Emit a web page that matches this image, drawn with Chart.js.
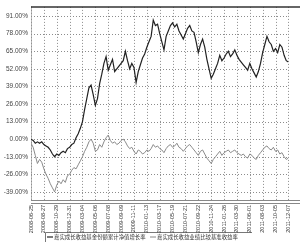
<!DOCTYPE html>
<html><head><meta charset="utf-8">
<script src="https://cdn.jsdelivr.net/npm/chart.js@4/dist/chart.umd.min.js"></script>
<style>html,body{margin:0;padding:0;background:#fff}#wrap{width:300px;height:242px}</style>
</head><body><div id="wrap"><canvas id="c" width="300" height="242"></canvas></div>
<script>
const tickLabels = ["2008-06-25","2008-08-27","2008-10-29","2008-12-31","2009-03-04","2009-05-06","2009-07-08","2009-09-09","2009-11-11","2010-01-13","2010-03-17","2010-05-19","2010-07-21","2010-09-22","2010-11-24","2011-01-26","2011-03-30","2011-06-01","2011-08-03","2011-10-05","2011-12-07"];
const yTicks = [-39,-26,-13,0,13,26,39,52,65,78,91];
const seriesNames = ["嘉实成长收益基金份额累计净值增长率","嘉实成长收益业绩比较基准收益率"];
const fundValues = [0,-1,-3,-2,-3,-2,-4,-5,-6,-8,-11,-13,-11,-12,-10,-9,-10,-7,-6,-4,-3,1,4,8,13,22,30,38,40,33,25,30,41,48,56,61,51,55,59,50,52,54,56,58,65,58,52,56,53,42,50,55,60,63,68,72,76,88,84,85,78,72,66,76,80,84,86,83,85,80,77,74,78,82,84,80,79,72,64,70,74,68,59,52,45,48,52,56,62,58,60,63,65,61,63,66,62,59,57,55,53,51,56,52,49,46,50,56,64,70,76,72,70,65,67,64,70,68,62,58,57];
const benchValues = [-3,-6,-12,-18,-15,-17,-22,-26,-29,-33,-36,-39,-34,-31,-33,-30,-32,-27,-26,-23,-21,-22,-19,-16,-13,-9,-6,-2,0,-3,-9,-8,-4,-6,-2,1,3,-1,-3,-2,-4,-3,-1,0,-2,-5,-7,-6,-9,-11,-8,-9,-11,-10,-8,-9,-7,-4,-6,-5,-7,-8,-10,-7,-5,-4,-6,-5,-3,-6,-7,-9,-7,-5,-4,-6,-8,-10,-12,-9,-8,-11,-14,-16,-18,-15,-13,-11,-9,-12,-10,-9,-8,-10,-9,-8,-10,-11,-12,-11,-13,-14,-11,-12,-14,-15,-12,-10,-8,-6,-5,-7,-8,-6,-9,-8,-11,-10,-13,-15,-14];

const perLabel = (fundValues.length - 1) / (tickLabels.length - 1);
const toPts = arr => arr.map((v, i) => ({x: i, y: v}));

const gridPlugin = {
  id: 'dotgrid',
  beforeDatasetsDraw(chart) {
    const {ctx, chartArea: a, scales: {x, y}} = chart;
    ctx.save();
    ctx.strokeStyle = '#8c8c8c'; ctx.lineWidth = 1;
    ctx.setLineDash([1, 2]);
    x.ticks.forEach(t => {
      const px = Math.round(x.getPixelForValue(t.value)) + 0.5;
      ctx.beginPath(); ctx.moveTo(px, a.top); ctx.lineTo(px, a.bottom); ctx.stroke();
    });
    y.ticks.forEach(t => {
      const py = Math.round(y.getPixelForValue(t.value)) + 0.5;
      ctx.beginPath(); ctx.moveTo(a.left, py); ctx.lineTo(a.right, py); ctx.stroke();
    });
    ctx.restore();
  }
};

const framePlugin = {
  id: 'frame',
  afterDraw(chart) {
    const {ctx, chartArea: a} = chart;
    ctx.save();
    ctx.strokeStyle = '#333'; ctx.lineWidth = 1.5;
    ctx.beginPath(); ctx.moveTo(a.left, a.top); ctx.lineTo(300, a.top); ctx.stroke();
    ctx.strokeStyle = '#888'; ctx.lineWidth = 1;
    ctx.beginPath(); ctx.moveTo(a.left, a.bottom + 0.5); ctx.lineTo(300, a.bottom + 0.5); ctx.stroke();
    ctx.beginPath(); ctx.moveTo(a.left, a.bottom + 3.5); ctx.lineTo(300, a.bottom + 3.5); ctx.stroke();
    // legend box
    const ly = 237;
    ctx.strokeStyle = '#555'; ctx.lineWidth = 0.8;
    ctx.beginPath(); ctx.moveTo(45.5, 242); ctx.lineTo(45.5, 232.5); ctx.lineTo(252, 232.5); ctx.stroke();
    ctx.font = '5.4px "Noto Sans CJK SC"';
    ctx.textBaseline = 'middle'; ctx.fillStyle = '#333';
    ctx.strokeStyle = '#222'; ctx.lineWidth = 1.2;
    ctx.beginPath(); ctx.moveTo(47, ly); ctx.lineTo(53, ly); ctx.stroke();
    ctx.fillText(seriesNames[0], 54, ly);
    ctx.strokeStyle = '#888'; ctx.lineWidth = 1;
    ctx.beginPath(); ctx.moveTo(150, ly); ctx.lineTo(156, ly); ctx.stroke();
    ctx.fillText(seriesNames[1], 157, ly);
    ctx.restore();
  }
};

new Chart(document.getElementById('c'), {
  type: 'line',
  data: {
    datasets: [
      {label: seriesNames[0], data: toPts(fundValues), borderColor: '#222', borderWidth: 1.2, pointRadius: 0, tension: 0},
      {label: seriesNames[1], data: toPts(benchValues), borderColor: '#8a8a8a', borderWidth: 1, pointRadius: 0, tension: 0}
    ]
  },
  options: {
    responsive: false, animation: false, devicePixelRatio: 1,
    layout: {padding: {left: 0, right: 3, top: 5, bottom: 0}},
    plugins: {legend: {display: false}, tooltip: {enabled: false}},
    scales: {
      x: {
        type: 'linear', min: 0, max: fundValues.length - 1,
        afterBuildTicks: s => { s.ticks = tickLabels.map((_, k) => ({value: k * perLabel})); },
        afterFit: s => { s.height = 42; },
        ticks: {
          autoSkip: false, maxRotation: 90, minRotation: 90, padding: 5,
          font: {size: 5.5, family: 'Liberation Sans'}, color: '#333',
          callback: (v) => tickLabels[Math.round(v / perLabel)]
        },
        grid: {display: false, drawTicks: false},
        border: {display: false}
      },
      y: {
        min: -45, max: 97.8,
        afterBuildTicks: s => { s.ticks = yTicks.map(v => ({value: v})); },
        afterFit: s => { s.width = 31; },
        ticks: {
          font: {size: 6.5, family: 'Liberation Sans'}, color: '#444', padding: 3,
          callback: v => v.toFixed(2) + '%'
        },
        grid: {display: false, drawTicks: false},
        border: {display: true, color: '#bbb'}
      }
    }
  },
  plugins: [gridPlugin, framePlugin]
});
</script>
</body></html>
